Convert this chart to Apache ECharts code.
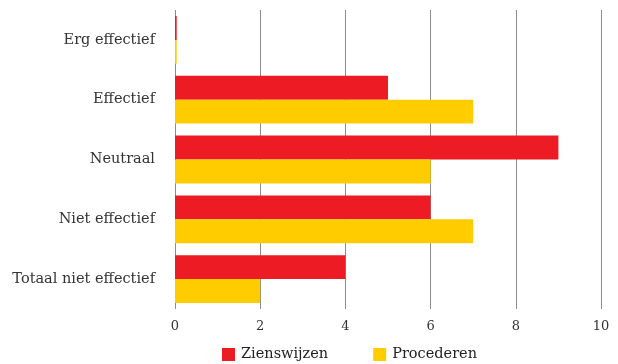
<!DOCTYPE html>
<html><head><meta charset="utf-8">
<script src="https://cdn.jsdelivr.net/npm/echarts@6/dist/echarts.min.js"></script>
<style>html,body{margin:0;padding:0;background:#fff}#c{width:618px;height:364px}</style>
</head><body><div id="c"></div>
<script>
const categories = ['Erg effectief', 'Effectief', 'Neutraal', 'Niet effectief', 'Totaal niet effectief'];
const zienswijzen = [0.04, 5, 9, 6, 4];
const procederen = [0.04, 7, 6, 7, 2];
const seriesNames = ['Zienswijzen', 'Procederen'];
const xTicks = [0, 2, 4, 6, 8, 10];

const font = '"DejaVu Serif", "Liberation Serif", serif';
const chart = echarts.init(document.getElementById('c'));
chart.setOption({
  animation: false,
  textStyle: { fontFamily: font },
  grid: { left: 175, right: 17, top: 10, bottom: 55, containLabel: false },
  legend: {
    bottom: 2, left: 222, padding: 0, itemWidth: 13, itemHeight: 13, itemGap: 45,
    icon: 'rect',
    textStyle: { fontFamily: font, fontSize: 14.5, color: '#222', padding: [0, 0, 0, 1] },
    data: seriesNames
  },
  xAxis: {
    type: 'value', min: xTicks[0], max: xTicks[xTicks.length - 1], interval: 2,
    axisLine: { show: false }, axisTick: { show: false },
    splitLine: { show: true, lineStyle: { color: '#8c8c8c', width: 1 } },
    axisLabel: { fontFamily: font, fontSize: 13, color: '#333', margin: 11 }
  },
  yAxis: {
    type: 'category', data: categories, inverse: true,
    axisLine: { show: false }, axisTick: { show: false },
    axisLabel: { fontFamily: font, fontSize: 14.5, color: '#333', margin: 20 }
  },
  series: [
    { name: seriesNames[0], type: 'bar', data: zienswijzen, barGap: '0%', barCategoryGap: '20%',
      itemStyle: { color: '#ED1C24' } },
    { name: seriesNames[1], type: 'bar', data: procederen, barGap: '0%', barCategoryGap: '20%',
      itemStyle: { color: '#FFCC00' } }
  ]
});
</script></body></html>
